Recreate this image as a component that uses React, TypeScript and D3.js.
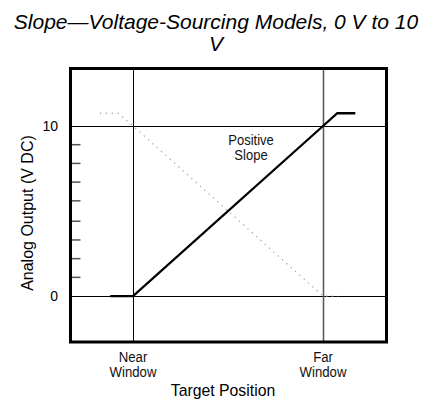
import * as d3 from "d3";
import { useEffect, useRef } from "react";

// target position in window units: near window = 0, far window = 10
const positiveX = [-1.2, 0, 10, 10.75, 11.7];
const positiveY = [0, 0, 10, 10.75, 10.75];
const negativeX = [-1.74, -0.79, 0, 10, 10.8];
const negativeY = [10.75, 10.75, 10, 0, 0];

const majorTicks = [0, 10];
const minorTicks = [1.1, 2.2, 3.3, 4.4, 5.6, 6.7, 7.8, 8.9];
const windowTicks = [
  { value: 0, lines: ["Near", "Window"] },
  { value: 10, lines: ["Far", "Window"] },
];

export default function App() {
  const svgRef = useRef<SVGSVGElement>(null);

  useEffect(() => {
    const svg = d3.select(svgRef.current);
    svg.selectAll("*").remove();

    const width = 426;
    const height = 400;
    const left = 70.5, right = 386.5, top = 68.5, bottom = 342;
    const font = "'Liberation Sans', Arial, sans-serif";

    const x = d3.scaleLinear().domain([-3.29, 13.34]).range([left, right]);
    const y = d3.scaleLinear().domain([-2.7, 13.38]).range([bottom, top]);

    svg.attr("width", width).attr("height", height);

    // title
    const title = svg.append("text")
      .attr("text-anchor", "middle")
      .attr("font-family", font)
      .attr("font-style", "italic")
      .attr("font-size", 21)
      .attr("fill", "#000");
    title.append("tspan").attr("x", 216).attr("y", 29).text("Slope\u2014Voltage-Sourcing Models, 0 V to 10");
    title.append("tspan").attr("x", 216).attr("y", 51).text("V");

    // minor ticks
    svg.selectAll("line.minor")
      .data(minorTicks)
      .enter()
      .append("line")
      .attr("x1", left)
      .attr("x2", left + 10)
      .attr("y1", d => y(d))
      .attr("y2", d => y(d))
      .attr("stroke", "#555")
      .attr("stroke-width", 1.5);

    // horizontal grid lines at 0 and 10
    svg.selectAll("line.hgrid")
      .data(majorTicks)
      .enter()
      .append("line")
      .attr("x1", left)
      .attr("x2", right)
      .attr("y1", d => Math.round(y(d)) + 0.5)
      .attr("y2", d => Math.round(y(d)) + 0.5)
      .attr("stroke", "#000")
      .attr("stroke-width", 1);

    // vertical lines at near and far window
    svg.selectAll("line.vgrid")
      .data(windowTicks)
      .enter()
      .append("line")
      .attr("x1", d => Math.round(x(d.value)) + 0.5)
      .attr("x2", d => Math.round(x(d.value)) + 0.5)
      .attr("y1", top)
      .attr("y2", bottom)
      .attr("stroke", (d, i) => (i === 0 ? "#000" : "#555"))
      .attr("stroke-width", (d, i) => (i === 0 ? 1 : 1.5));

    const line = d3.line<[number, number]>()
      .x(d => x(d[0]))
      .y(d => y(d[1]));

    // negative slope (dotted)
    svg.append("path")
      .attr("d", line(negativeX.map((v, i) => [v, negativeY[i]])))
      .attr("fill", "none")
      .attr("stroke", "#aaa")
      .attr("stroke-width", 1.3)
      .attr("stroke-dasharray", "1.3,4.5");

    // positive slope
    svg.append("path")
      .attr("d", line(positiveX.map((v, i) => [v, positiveY[i]])))
      .attr("fill", "none")
      .attr("stroke", "#000")
      .attr("stroke-width", 2.3);

    // frame
    svg.append("rect")
      .attr("x", left)
      .attr("y", top)
      .attr("width", right - left)
      .attr("height", bottom - top)
      .attr("fill", "none")
      .attr("stroke", "#000")
      .attr("stroke-width", 3);

    // y tick labels
    svg.selectAll("text.ytick")
      .data(majorTicks)
      .enter()
      .append("text")
      .attr("x", 58)
      .attr("y", d => y(d))
      .attr("dy", "0.35em")
      .attr("text-anchor", "end")
      .attr("font-family", font)
      .attr("font-size", 14)
      .text(d => d);

    // x window labels (condensed look)
    windowTicks.forEach(t => {
      const txt = svg.append("text")
        .attr("transform", `translate(${x(t.value)},0) scale(0.88,1)`)
        .attr("text-anchor", "middle")
        .attr("font-family", font)
        .attr("font-size", 15)
        .attr("fill", "#111");
      t.lines.forEach((s, i) => {
        txt.append("tspan")
          .attr("x", 0)
          .attr("y", 362 + i * 15)
          .text(s);
      });
    });

    // axis titles
    svg.append("text")
      .attr("transform", "translate(223,396) scale(0.93,1)")
      .attr("text-anchor", "middle")
      .attr("font-family", font)
      .attr("font-size", 17)
      .text("Target Position");

    svg.append("text")
      .attr("transform", `translate(33, ${(y(0) + y(10)) / 2 + 2}) rotate(-90)`)
      .attr("text-anchor", "middle")
      .attr("font-family", font)
      .attr("font-size", 16)
      .text("Analog Output (V DC)");

    // series label
    const lbl = svg.append("text")
      .attr("transform", "translate(251,0) scale(0.93,1)")
      .attr("text-anchor", "middle")
      .attr("font-family", font)
      .attr("font-size", 14)
      .attr("fill", "#111");
    lbl.append("tspan").attr("x", 0).attr("y", 145.5).text("Positive");
    lbl.append("tspan").attr("x", 0).attr("y", 160).text("Slope");
  }, []);

  return <svg ref={svgRef} style={{ position: "absolute", left: 0, top: 0 }} />;
}
